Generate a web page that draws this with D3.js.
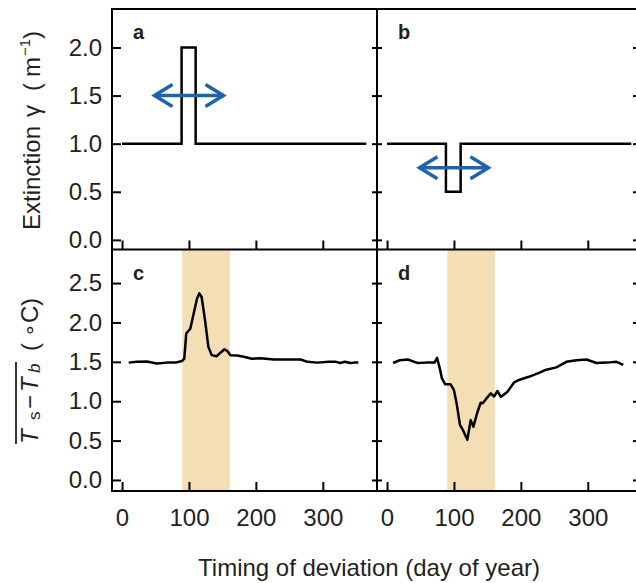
<!DOCTYPE html>
<html>
<head>
<meta charset="utf-8">
<script src="https://cdn.jsdelivr.net/npm/d3@7"></script>
<style>
  html, body { margin: 0; padding: 0; background: #fff; }
  svg { display: block; }
</style>
</head>
<body>
<svg id="chart" width="636" height="583"></svg>
<script>
// ---------- data ----------
const xTicks = [0, 100, 200, 300];
const yTicksTop = [0, 0.5, 1.0, 1.5, 2.0];
const yTicksBottom = [0, 0.5, 1.0, 1.5, 2.0, 2.5];

const daysA = [0, 89, 89, 110, 110, 365];
const gammaA = [1, 1, 2, 2, 1, 1];
const daysB = [0, 88, 88, 110, 110, 365];
const gammaB = [1, 1, 0.5, 0.5, 1, 1];

const arrowDays = [47, 153];
const arrowYA = 1.5;
const arrowYB = 0.75;

const bandDays = [90, 161];

const daysC = [10, 22, 37, 52, 67, 80, 89.5, 93, 96, 102, 107, 112, 115.5, 119, 124, 129, 134, 141, 147, 153, 157, 162, 172, 182, 194, 207, 227, 250, 267, 277, 292, 309, 320, 326, 333, 341, 347, 353];
const valsC = [1.49, 1.50, 1.505, 1.48, 1.49, 1.49, 1.51, 1.54, 1.86, 1.92, 2.11, 2.30, 2.37, 2.32, 2.03, 1.69, 1.585, 1.57, 1.615, 1.66, 1.64, 1.585, 1.58, 1.565, 1.54, 1.545, 1.53, 1.53, 1.53, 1.50, 1.49, 1.50, 1.50, 1.485, 1.50, 1.485, 1.49, 1.49];

const daysD = [9, 19, 31, 41, 46, 58, 71, 74.7, 78.5, 82, 87, 95, 100, 104, 109, 113, 120, 125, 129, 135, 140, 143, 150, 155, 160, 165, 170, 180, 190, 197, 212, 227, 238, 253, 268, 283, 298, 313, 328, 343, 353];
const valsD = [1.485, 1.52, 1.53, 1.50, 1.485, 1.49, 1.49, 1.55, 1.43, 1.29, 1.215, 1.215, 1.14, 0.97, 0.70, 0.64, 0.51, 0.76, 0.675, 0.86, 0.98, 0.975, 1.05, 1.10, 1.06, 1.13, 1.055, 1.12, 1.24, 1.27, 1.31, 1.36, 1.40, 1.43, 1.50, 1.52, 1.53, 1.485, 1.49, 1.50, 1.46];

// ---------- layout ----------
const L = 112, M = 377, R = 642;
const T = 9, MID = 249.5, B = 491;
const FONT = "'Liberation Sans', Arial, Helvetica, sans-serif";
const TXT = "#231f20";
const BLUE = "#1f63ae";
const BAND = "#f4deb4";

const svg = d3.select("#chart");

const xLeft = d3.scaleLinear().domain([-15, 381]).range([L, M]);
const xRight = d3.scaleLinear().domain([-15, 381]).range([M, R]);
const yTop = d3.scaleLinear().domain([-0.1, 2.4]).range([MID, T]);
const yBot = d3.scaleLinear().domain([-0.14, 2.92]).range([B, MID + 0.5]);

// bands
[xLeft, xRight].forEach(x => {
  svg.append("rect")
    .attr("x", x(bandDays[0])).attr("y", yBot.range()[1])
    .attr("width", x(bandDays[1]) - x(bandDays[0]))
    .attr("height", yBot.range()[0] - yBot.range()[1])
    .attr("fill", BAND);
});

// lines
function drawLine(x, y, days, vals, join) {
  const data = days.map((d, i) => [d, vals[i]]);
  svg.append("path")
    .datum(data)
    .attr("d", d3.line().x(d => x(d[0])).y(d => y(d[1])))
    .attr("fill", "none").attr("stroke", "#000")
    .attr("stroke-width", 2.5)
    .attr("stroke-linejoin", join);
}
drawLine(xLeft, yTop, daysA, gammaA, "miter");
drawLine(xRight, yTop, daysB, gammaB, "miter");
drawLine(xLeft, yBot, daysC, valsC, "round");
drawLine(xRight, yBot, daysD, valsD, "round");

// arrows
function drawArrow(x, y, yv) {
  const g = svg.append("g").attr("stroke", BLUE).attr("stroke-width", 3.5).attr("fill", "none");
  const x0 = x(arrowDays[0]), x1 = x(arrowDays[1]), yy = y(yv);
  g.append("line").attr("x1", x0 + 1).attr("x2", x1 - 1).attr("y1", yy).attr("y2", yy);
  g.append("path").attr("d", `M${x0 + 19},${yy - 11}L${x0 + 1},${yy}L${x0 + 19},${yy + 11}`)
    .attr("stroke-linejoin", "miter");
  g.append("path").attr("d", `M${x1 - 19},${yy - 11}L${x1 - 1},${yy}L${x1 - 19},${yy + 11}`)
    .attr("stroke-linejoin", "miter");
}
drawArrow(xLeft, yTop, arrowYA);
drawArrow(xRight, yTop, arrowYB);

// axes
function styleAxis(g) {
  g.select(".domain").remove();
  g.selectAll(".tick line").attr("stroke", "#000").attr("stroke-width", 2);
  g.selectAll("text").attr("fill", TXT).attr("font-family", FONT).attr("font-size", 24);
  g.attr("font-family", null).attr("font-size", null);
}
function axis(gen, tx, ty) {
  svg.append("g").attr("transform", `translate(${tx},${ty})`).call(gen).call(styleAxis);
}
const fmt1 = d3.format(".1f");
const blank = () => "";

// left labelled y axes
axis(d3.axisLeft(yTop).tickValues(yTicksTop).tickSize(-9).tickPadding(10).tickFormat(fmt1), L, 0);
axis(d3.axisLeft(yBot).tickValues(yTicksBottom).tickSize(-9).tickPadding(10).tickFormat(fmt1), L, 0);
// shared middle ticks and right ticks
[yTop, yBot].forEach((y, i) => {
  const tv = i === 0 ? yTicksTop : yTicksBottom;
  axis(d3.axisLeft(y).tickValues(tv).tickSize(5).tickFormat(blank), M, 0);
  axis(d3.axisRight(y).tickValues(tv).tickSize(5).tickFormat(blank), M, 0);
  axis(d3.axisLeft(y).tickValues(tv).tickSize(9).tickFormat(blank), R, 0);
});
// x ticks
[xLeft, xRight].forEach(x => {
  axis(d3.axisTop(x).tickValues(xTicks).tickSize(9).tickFormat(blank), 0, MID);
  axis(d3.axisBottom(x).tickValues(xTicks).tickSize(-9).tickPadding(18).tickFormat(d3.format("d")), 0, B);
});

// frame
const frame = svg.append("g").attr("stroke", "#000").attr("stroke-width", 2).attr("fill", "none");
frame.append("rect").attr("x", L).attr("y", T).attr("width", R - L).attr("height", B - T);
frame.append("line").attr("x1", M).attr("x2", M).attr("y1", T).attr("y2", B);
frame.append("line").attr("x1", L).attr("x2", R).attr("y1", MID).attr("y2", MID);

// panel letters
const letters = [["a", 133, 39], ["b", 398, 39], ["c", 133, 280], ["d", 398, 280]];
letters.forEach(([t, x, y]) => {
  svg.append("text").attr("x", x).attr("y", y).text(t)
    .attr("font-family", FONT).attr("font-weight", "bold").attr("font-size", 20).attr("fill", TXT);
});

// x label
svg.append("text").attr("x", 369).attr("y", 576).attr("text-anchor", "middle")
  .attr("font-family", FONT).attr("font-size", 24).attr("fill", TXT)
  .text("Timing of deviation (day of year)");

// y label top (rotated frame: x runs upward, centred on panel a)
const g1 = svg.append("g").attr("transform", "translate(40,130) rotate(-90)")
  .attr("font-family", FONT).attr("font-size", 24).attr("fill", TXT);
const yl1 = g1.append("text");
yl1.append("tspan").attr("x", -100).text("Extinction");
yl1.append("tspan").attr("x", 13).text("γ");
yl1.append("tspan").attr("x", 39).text("(");
yl1.append("tspan").attr("x", 53).text("m");
yl1.append("tspan").attr("x", 74).attr("dy", -10).attr("font-size", 15).text("−1");
yl1.append("tspan").attr("x", 91).attr("dy", 10).text(")");

// y label bottom
const g2 = svg.append("g").attr("transform", "translate(38,370) rotate(-90)")
  .attr("font-family", FONT).attr("font-size", 24).attr("fill", TXT);
const yl2 = g2.append("text");
yl2.append("tspan").attr("x", -74).attr("font-style", "italic").text("T");
yl2.append("tspan").attr("x", -50).attr("dy", 2).attr("font-size", 17).text("s");
yl2.append("tspan").attr("x", -39).attr("dy", -2).text("−");
yl2.append("tspan").attr("x", -22).attr("font-style", "italic").text("T");
yl2.append("tspan").attr("x", -3).attr("dy", 2).attr("font-size", 17).attr("font-style", "italic").text("b");
yl2.append("tspan").attr("x", 19).attr("dy", -2).text("(");
yl2.append("tspan").attr("x", 35).attr("dy", 5).text("°");
yl2.append("tspan").attr("x", 47).attr("dy", -5).text("C");
yl2.append("tspan").attr("x", 64).text(")");
g2.append("line").attr("x1", -74).attr("x2", 8)
  .attr("y1", -22).attr("y2", -22).attr("stroke", TXT).attr("stroke-width", 1.8);
</script>
</body>
</html>
